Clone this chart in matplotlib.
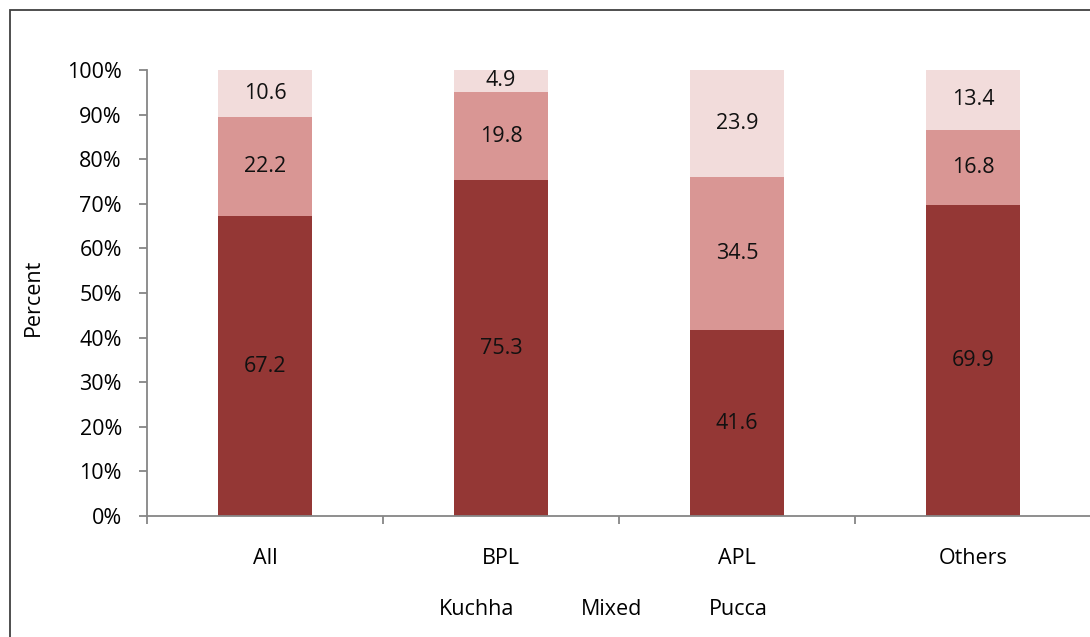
import numpy as np
import matplotlib.pyplot as plt
from matplotlib.patches import Rectangle, Patch

# housing type by economic group (percent of households)
groups = ['All', 'BPL', 'APL', 'Others']
house_types = ['Kuchha', 'Mixed', 'Pucca']
kuchha = [67.2, 75.3, 41.6, 69.9]
mixed = [22.2, 19.8, 34.5, 16.8]
pucca = [10.6, 4.9, 23.9, 13.4]
y_ticks = [0, 10, 20, 30, 40, 50, 60, 70, 80, 90, 100]

colors = ['#943735', '#D99694', '#F2DCDB']
grey = '#868686'
fs = 15.5

plt.rcParams['font.family'] = ['Open Sans', 'DejaVu Sans']

fig = plt.figure(figsize=(10.9, 6.37), dpi=100)
ax = fig.add_axes([147 / 1090, 121 / 637, 944 / 1090, 446 / 637])

# outer chart frame
fig.patches.append(Rectangle((10 / 1090, -0.1), 1.2, 1 - 10 / 637 + 0.1,
                             transform=fig.transFigure, fill=False,
                             edgecolor='#404040', linewidth=1.3))

data = np.array([kuchha, mixed, pucca])
pct = data / data.sum(axis=0) * 100  # 100% stacked
x = np.arange(len(groups))
bottom = np.zeros(len(groups))
for i, name in enumerate(house_types):
    ax.bar(x, pct[i], width=0.4, bottom=bottom, color=colors[i], label=name)
    for xi, b, h, v in zip(x, bottom, pct[i], data[i]):
        ax.text(xi, b + h / 2, f'{v:.1f}', ha='center', va='center',
                fontsize=fs, color='#111111')
    bottom += pct[i]

ax.set_xlim(-0.5, len(groups) - 0.5)
ax.set_ylim(0, 100)
ax.set_yticks(y_ticks)
ax.set_yticklabels([f'{t}%' for t in y_ticks])
ax.set_xticks(x)
ax.set_xticklabels(groups)
ax.set_xticks(np.arange(len(groups) + 1) - 0.5, minor=True)
ax.tick_params(axis='x', which='major', length=0, pad=23, labelsize=fs)
ax.tick_params(axis='x', which='minor', length=6, color=grey, width=1.3)
ax.tick_params(axis='y', length=6, color=grey, width=1.3, labelsize=fs, pad=12)
for side in ['top', 'right']:
    ax.spines[side].set_visible(False)
for side in ['left', 'bottom']:
    ax.spines[side].set_color(grey)
    ax.spines[side].set_linewidth(1.3)
fig.text(33 / 1090, 1 - 297 / 637, 'Percent', rotation=90, ha='center',
         va='center', fontsize=fs)

handles = [Patch(facecolor='none', edgecolor='none') for _ in house_types]
ax.legend(handles, house_types, loc='center', bbox_to_anchor=(0.483, -0.21),
          ncol=3, frameon=False, fontsize=fs, handlelength=0, handletextpad=0,
          columnspacing=3.1)

fig.savefig('out.png', dpi=100)
